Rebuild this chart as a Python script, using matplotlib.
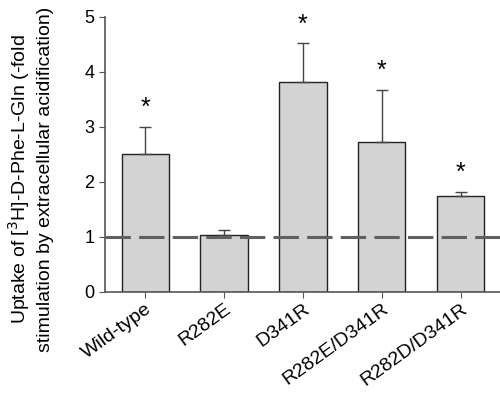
import numpy as np
import matplotlib
matplotlib.use('Agg')
import matplotlib.pyplot as plt

plt.rcParams['font.family'] = ['Liberation Sans', 'DejaVu Sans']

labels = ['Wild-type', 'R282E', 'D341R', 'R282E/D341R', 'R282D/D341R']
means = [2.50, 1.03, 3.82, 2.72, 1.74]
errors = [0.50, 0.09, 0.70, 0.96, 0.08]
significant = [True, False, True, True, True]

fig = plt.figure(figsize=(5.0, 3.93), dpi=100)
ax = fig.add_axes([0.21, 0.257, 0.79, 0.7])

x = np.arange(len(labels))
ax.bar(x, means, width=0.6, color='#d3d3d3', edgecolor='#222222', linewidth=1.0, zorder=2)
ax.errorbar(x, means, yerr=[np.zeros(len(errors)), errors], fmt='none',
            ecolor='#444444', elinewidth=1.0, capsize=4, capthick=1.0, zorder=3)
ax.axhline(1.0, color='#606060', linestyle=(0, (8.3, 2.7)), linewidth=2.2, zorder=4)

for xi, m, e, s in zip(x, means, errors, significant):
    if s:
        ax.text(xi, m + e + 0.12, '*', ha='center', va='bottom', fontsize=18)

ax.set_xlim(-0.51, 4.5)
ax.set_ylim(0, 5)
ax.set_yticks(range(6))
ax.set_xticks(x)
ax.set_xticklabels(labels, rotation=36, ha='right', rotation_mode='anchor', fontsize=14)
ax.tick_params(axis='y', labelsize=13, direction='out', length=4, color='#555555')
ax.tick_params(axis='x', direction='out', length=4, pad=2, color='#555555')
for side in ['top', 'right']:
    ax.spines[side].set_visible(False)
for side in ['left', 'bottom']:
    ax.spines[side].set_color('#555555')
    ax.spines[side].set_linewidth(1.2)

ax.text(-0.19, 0.41,
        'Uptake of [$^3$H]-D-Phe-L-Gln (-fold\nstimulation by extracellular acidification)',
        transform=ax.transAxes, rotation=90, ha='center', va='center',
        multialignment='center', linespacing=1.4, fontsize=14)

fig.savefig('out.png', dpi=100)
